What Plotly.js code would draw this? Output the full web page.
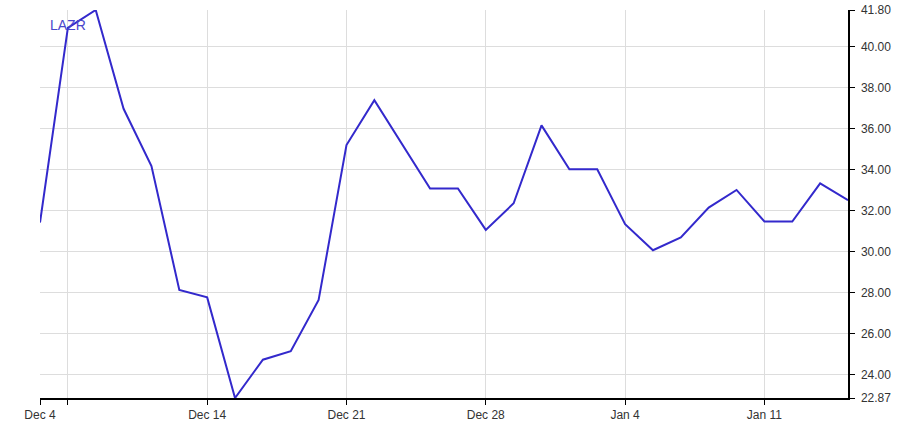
<!DOCTYPE html>
<html>
<head>
<meta charset="utf-8">
<script src="https://cdn.plot.ly/plotly-3.0.1.min.js"></script>
<style>html,body{margin:0;padding:0;background:#fff;}#chart{width:908px;height:433px;}</style>
</head>
<body>
<div id="chart"></div>
<script>
// Trading-day index and closing prices
const dayIndex = [0,1,2,3,4,5,6,7,8,9,10,11,12,13,14,15,16,17,18,19,20,21,22,23,24,25,26,27,28,29];
const prices = [31.43,40.93,41.80,36.98,34.19,28.14,27.78,22.87,24.74,25.15,27.65,35.21,37.40,35.25,33.09,33.09,31.07,32.37,36.17,34.03,34.03,31.35,30.08,30.70,32.16,33.02,31.48,31.48,33.34,32.52];
const xTickVals = [0,1,6,11,16,21,26];
const xTickText = ['Dec 4','','Dec 14','Dec 21','Dec 28','Jan 4','Jan 11'];
const yTickVals = [22.87,24,26,28,30,32,34,36,38,40,41.8];
const yTickText = ['22.87','24.00','26.00','28.00','30.00','32.00','34.00','36.00','38.00','40.00','41.80'];
const seriesName = 'LAZR';

const trace = {
  x: dayIndex, y: prices, type: 'scatter', mode: 'lines', name: seriesName,
  line: {color: '#3329cc', width: 2}, hoverinfo: 'y'
};
const layout = {
  width: 908, height: 433,
  margin: {l: 40, r: 60, t: 10, b: 35, pad: 0},
  paper_bgcolor: '#fff', plot_bgcolor: '#fff',
  showlegend: false,
  font: {family: 'Arial, "Liberation Sans", sans-serif', size: 12, color: '#333'},
  xaxis: {
    range: [0, 29], tickmode: 'array', tickvals: xTickVals, ticktext: xTickText,
    showgrid: true, gridcolor: '#dddddd', gridwidth: 1,
    showline: true, linecolor: '#000', linewidth: 1.5,
    ticks: 'outside', ticklen: 5, tickcolor: '#000', tickwidth: 1,
    zeroline: false, tickfont: {size: 12, color: '#333'}, fixedrange: true
  },
  yaxis: {
    side: 'right', range: [22.87, 41.8], tickmode: 'array', tickvals: yTickVals, ticktext: yTickText,
    showgrid: true, gridcolor: '#dddddd', gridwidth: 1,
    showline: true, linecolor: '#000', linewidth: 1.5,
    ticks: 'outside', ticklen: 5, tickcolor: '#000', tickwidth: 1,
    ticklabelstandoff: 4,
    zeroline: false, tickfont: {size: 12, color: '#333'}, fixedrange: true
  },
  annotations: [{
    text: seriesName, xref: 'paper', yref: 'paper', x: 0.0095, y: 0.961,
    xanchor: 'left', yanchor: 'middle', showarrow: false,
    font: {size: 14, color: '#4a46cc'}
  }]
};
Plotly.newPlot('chart', [trace], layout, {displayModeBar: false, staticPlot: true});
</script>
</body>
</html>
